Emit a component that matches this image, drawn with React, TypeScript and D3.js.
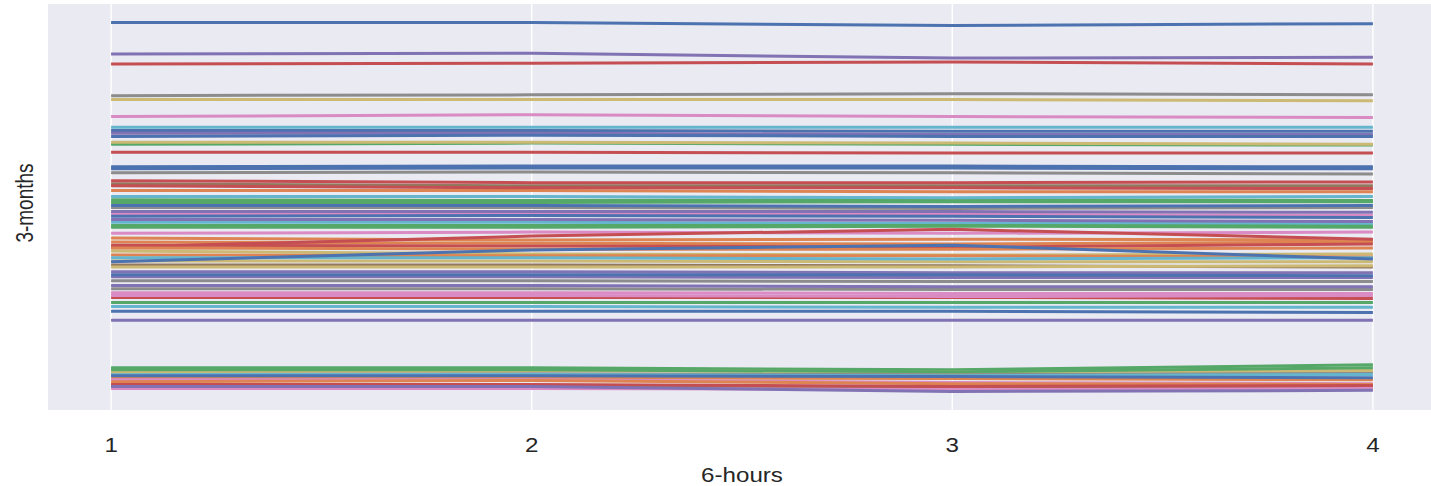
import React from "react";
import * as d3 from "d3";

// x axis: the four 6-hour readings
const hours = [1, 2, 3, 4];

// seaborn "deep" colour cycle
const deepPalette = [
  "#4C72B0", "#DD8452", "#55A868", "#C44E52", "#8172B3",
  "#937860", "#DA8BC3", "#8C8C8C", "#CCB974", "#64B5CD",
];

// plot order of every series (the colour comes from the cycle position)
const seriesIds = [
  0, 4, 3, 7, 8, 6, 9, 10, 14, 20,
  18, 2, 13, 30, 40, 17, 23, 5, 33, 1,
  19, 12, 22, 50, 27, 24, 16, 60, 34, 29,
  32, 26, 43, 11, 21, 53, 70, 28, 31, 38,
  15, 48, 44, 80, 54, 37, 64, 36, 63, 42,
  39, 90, 74, 52, 62, 58, 47, 49, 100, 41,
  46, 51, 73, 25, 84, 56, 57, 59, 61, 72,
  66,
];

// 3-month values at hours 1..4, same order as seriesIds
const seriesValues = [
  [94.8, 94.8, 94.0, 94.5],
  [86.8, 87.0, 85.8, 86.0],
  [84.3, 84.5, 84.8, 84.3],
  [76.3, 76.5, 76.8, 76.5],
  [75.3, 75.3, 75.3, 75.0],
  [71.0, 71.5, 71.0, 70.8],
  [68.3, 68.3, 68.3, 68.3],
  [67.5, 67.5, 67.3, 67.3],
  [66.8, 66.8, 66.5, 66.5],
  [66.0, 66.3, 66.0, 66.0],
  [64.5, 64.5, 64.3, 64.0],
  [64.0, 64.3, 64.0, 63.8],
  [62.0, 62.0, 61.8, 61.8],
  [58.3, 58.5, 58.5, 58.3],
  [57.8, 58.0, 58.0, 57.8],
  [56.8, 57.0, 56.8, 56.5],
  [54.8, 54.3, 54.3, 54.5],
  [54.0, 53.5, 53.5, 53.5],
  [53.5, 53.0, 53.0, 52.8],
  [52.3, 52.3, 52.0, 52.0],
  [50.8, 50.8, 50.5, 50.8],
  [50.0, 49.8, 50.0, 49.8],
  [49.3, 49.3, 49.5, 49.5],
  [48.5, 48.5, 48.3, 48.5],
  [48.0, 48.0, 47.8, 48.0],
  [47.0, 47.0, 47.0, 46.8],
  [46.5, 46.5, 46.3, 46.0],
  [45.8, 46.0, 45.8, 45.5],
  [45.0, 45.0, 44.8, 44.5],
  [44.3, 44.3, 44.0, 44.0],
  [43.0, 43.0, 43.3, 43.0],
  [41.5, 41.8, 41.5, 41.8],
  [38.0, 40.8, 42.5, 40.0],
  [40.3, 39.8, 40.0, 39.8],
  [39.3, 39.0, 38.8, 39.3],
  [38.5, 38.3, 38.0, 38.8],
  [34.3, 37.3, 38.5, 35.0],
  [37.0, 36.3, 36.0, 36.3],
  [36.0, 35.8, 35.8, 35.5],
  [34.5, 34.5, 34.3, 34.3],
  [33.5, 33.5, 33.3, 33.0],
  [33.0, 33.0, 33.0, 33.3],
  [31.8, 31.8, 31.5, 31.5],
  [31.0, 31.0, 31.0, 30.8],
  [30.5, 30.5, 30.3, 30.3],
  [29.5, 29.5, 29.3, 29.3],
  [28.3, 28.3, 28.0, 28.0],
  [26.5, 26.5, 26.3, 26.3],
  [25.3, 25.3, 25.3, 25.0],
  [24.0, 24.0, 24.0, 24.0],
  [23.0, 23.0, 22.8, 22.8],
  [21.8, 21.8, 21.8, 21.5],
  [19.5, 19.5, 19.5, 19.5],
  [7.5, 7.5, 7.0, 8.3],
  [7.0, 7.0, 6.5, 7.5],
  [6.5, 6.8, 6.5, 6.8],
  [6.0, 6.0, 5.8, 6.3],
  [5.8, 5.8, 5.5, 5.8],
  [5.5, 5.5, 5.3, 5.0],
  [5.0, 5.0, 4.8, 4.5],
  [4.5, 4.5, 3.8, 3.5],
  [4.0, 4.3, 3.5, 3.3],
  [3.3, 3.3, 2.8, 3.0],
  [3.0, 3.0, 2.5, 2.8],
  [2.8, 2.8, 1.5, 1.8],
  [2.3, 2.3, 2.0, 2.3],
  [27.5, 27.5, 27.3, 27.3],
  [35.3, 35.3, 35.0, 35.3],
  [37.8, 37.5, 37.5, 37.8],
  [43.5, 43.5, 43.5, 43.3],
  [25.8, 25.8, 25.5, 25.8],
];

const width = 1431;
const height = 486;
const plot = { left: 48, right: 1436, top: 4, bottom: 410 };
const font = "'Liberation Sans', Arial, sans-serif";

export default function App() {
  // matplotlib-like 5% margins on both axes
  const x = d3
    .scaleLinear()
    .domain([0.85, 4.15])
    .range([plot.left, plot.right]);

  const allValues = seriesValues.flat();
  const [lo, hi] = d3.extent(allValues) as [number, number];
  const pad = (hi - lo) * 0.05;
  const y = d3
    .scaleLinear()
    .domain([lo - pad, hi + pad])
    .range([plot.bottom, plot.top]);

  const line = d3
    .line<number>()
    .x((_, i) => x(hours[i]))
    .y((d) => y(d));

  const series = seriesIds
    .map((id, i) => ({ id, values: seriesValues[i] }))
    .sort((a, b) => a.id - b.id);

  const plotW = width - plot.left;
  const plotH = plot.bottom - plot.top;

  return (
    <div style={{ position: "absolute", left: 0, top: 0 }}>
      <svg width={width} height={height} style={{ display: "block", background: "#fff" }}>
        <defs>
          <clipPath id="plotClip">
            <rect x={plot.left} y={plot.top} width={plotW} height={plotH} />
          </clipPath>
        </defs>
        <rect x={plot.left} y={plot.top} width={plotW} height={plotH} fill="#EAEAF2" />

        {hours.map((t) => (
          <line
            key={"g" + t}
            x1={x(t)}
            x2={x(t)}
            y1={plot.top}
            y2={plot.bottom}
            stroke="#fff"
            strokeWidth={1.4}
          />
        ))}

        <g clipPath="url(#plotClip)">
          {series.map((s) => (
            <path
              key={s.id}
              d={line(s.values) || ""}
              fill="none"
              stroke={deepPalette[s.id % 10]}
              strokeWidth={3}
              strokeLinejoin="round"
            />
          ))}
        </g>

        {hours.map((t) => (
          <text
            key={"t" + t}
            transform={`translate(${x(t)},452) scale(1.15,1)`}
            textAnchor="middle"
            fontFamily={font}
            fontSize={21}
            fill="#262626"
          >
            {t}
          </text>
        ))}

        <text
          transform={`translate(${(x(1) + x(4)) / 2},482) scale(1.15,1)`}
          textAnchor="middle"
          fontFamily={font}
          fontSize={21}
          fill="#262626"
        >
          6-hours
        </text>

        <text
          transform={`translate(33,${(plot.top + plot.bottom) / 2 - 4}) scale(1.25,1) rotate(-90)`}
          textAnchor="middle"
          fontFamily={font}
          fontSize={19}
          fill="#262626"
        >
          3-months
        </text>
      </svg>
    </div>
  );
}
